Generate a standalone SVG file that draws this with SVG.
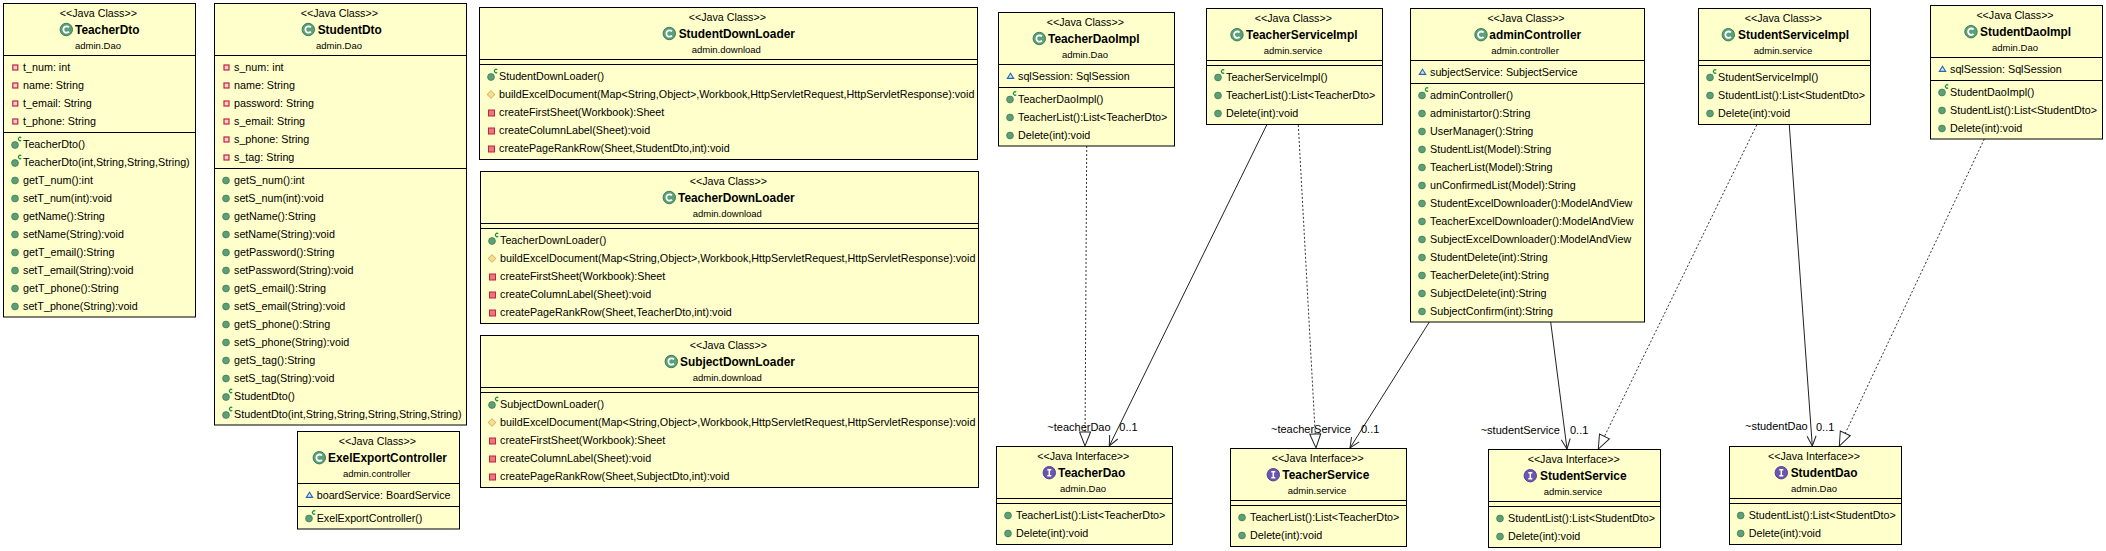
<svg xmlns="http://www.w3.org/2000/svg" width="2106" height="551" viewBox="0 0 2106 551">
<style>
text{font-family:"Liberation Sans",Arial,sans-serif;fill:#000}
.b{fill:#ffffcb;stroke:#000;stroke-width:1}
.d{stroke:#000;stroke-width:1;fill:none}
.s{font-size:10.7px;text-anchor:middle}
.n{font-size:11.9px;font-weight:bold}
.p{font-size:9.5px;text-anchor:middle}
.r{font-size:10.75px}
.l{font-size:11px}
.c{stroke:#222;stroke-width:1;fill:none}
.da{stroke-dasharray:2 2;stroke:#333}
</style>
<defs>
<marker id="open" markerUnits="userSpaceOnUse" markerWidth="14" markerHeight="14" refX="11" refY="6" orient="auto"><path d="M1,1.5L11,6L1,10.5" fill="none" stroke="#222" stroke-width="1"/></marker>
<marker id="tri" markerUnits="userSpaceOnUse" markerWidth="18" markerHeight="18" refX="15.5" refY="8" orient="auto"><path d="M1.5,2.5L15.5,8L1.5,13.5Z" fill="#fff" stroke="#222" stroke-width="1"/></marker>
<g id="m"><circle r="3.4" fill="#5f9f78" stroke="#3d7d58" stroke-width="0.8"/></g>
<g id="k"><circle cy="0.5" r="3.4" fill="#5f9f78" stroke="#3d7d58" stroke-width="0.8"/><path d="M6.2,-6.8A1.7,1.7 0 1 0 6.2,-4.2" fill="none" stroke="#0b8f3c" stroke-width="1.2"/></g>
<g id="f"><rect x="-2.5" y="-2.5" width="5" height="5" fill="#f4d0d0" stroke="#c8213c" stroke-width="1.2"/></g>
<g id="v"><rect x="-3" y="-2.5" width="6" height="6" fill="#e8787f" stroke="#c8213c" stroke-width="1"/></g>
<g id="t"><path d="M0,-3.8L3.9,0L0,3.8L-3.9,0Z" fill="#f8dc90" stroke="#c89c40" stroke-width="0.8"/></g>
<g id="a"><path d="M0,-2.8L3.2,2.4H-3.2Z" fill="#cfe4f7" stroke="#2a66ae" stroke-width="1.1"/></g>
<g id="C"><circle r="6.2" fill="#5c9f78" stroke="#3a7f58" stroke-width="1"/><path d="M2.6,-2.2A3.2,3.2 0 1 0 2.6,2.2" fill="none" stroke="#fff" stroke-width="1.8"/></g>
<g id="I"><circle r="6.2" fill="#6a55b0" stroke="#54428f" stroke-width="1"/><path d="M-2,-3H2M-2,3H2M0,-3V3" fill="none" stroke="#fff" stroke-width="1.5"/></g>
</defs>
<rect width="2106" height="551" fill="#fff"/>
<g id="connectors">
<path class="c da" d="M1086.7,146L1085,446" marker-end="url(#tri)"/>
<path class="c" d="M1266.7,125L1109.3,446" marker-end="url(#open)"/>
<path class="c da" d="M1298.3,125L1316,448" marker-end="url(#tri)"/>
<path class="c" d="M1429.3,322L1350,448" marker-end="url(#open)"/>
<path class="c" d="M1550.7,322L1567,449" marker-end="url(#open)"/>
<path class="c da" d="M1756.7,125L1598.3,449" marker-end="url(#tri)"/>
<path class="c" d="M1789.3,125L1812.3,446" marker-end="url(#open)"/>
<path class="c da" d="M1984.3,139L1839.3,446" marker-end="url(#tri)"/>
<text class="l" x="1047.3" y="430.5">~teacherDao</text><text class="l" x="1119.3" y="431">0..1</text>
<text class="l" x="1271" y="432.5">~teacherService</text><text class="l" x="1361" y="433">0..1</text>
<text class="l" x="1480.7" y="433.5">~studentService</text><text class="l" x="1570" y="434">0..1</text>
<text class="l" x="1745" y="430">~studentDao</text><text class="l" x="1816" y="431">0..1</text>
</g>

<g id="TeacherDto">
<rect class="b" x="3.5" y="3.5" width="192" height="313.5"/><path class="d" d="M3.5,55.5H195.5M3.5,132.5H195.5"/>
<text class="s" x="98.3" y="17">&lt;&lt;Java Class&gt;&gt;</text><use href="#C" x="66.3" y="29.5"/><text class="n" x="75" y="34">TeacherDto</text><text class="p" x="98" y="49">admin.Dao</text>
<use href="#f" x="15.3" y="67.5"/><text class="r" x="23" y="71">t_num: int</text>
<use href="#f" x="15.3" y="85.5"/><text class="r" x="23" y="89">name: String</text>
<use href="#f" x="15.3" y="103.5"/><text class="r" x="23" y="107">t_email: String</text>
<use href="#f" x="15.3" y="121.5"/><text class="r" x="23" y="125">t_phone: String</text>
<use href="#k" x="15" y="144.5"/><text class="r" x="23" y="148">TeacherDto()</text>
<use href="#k" x="15" y="162.5"/><text class="r" x="23" y="166">TeacherDto(int,String,String,String)</text>
<use href="#m" x="15" y="180.5"/><text class="r" x="23" y="184">getT_num():int</text>
<use href="#m" x="15" y="198.5"/><text class="r" x="23" y="202">setT_num(int):void</text>
<use href="#m" x="15" y="216.5"/><text class="r" x="23" y="220">getName():String</text>
<use href="#m" x="15" y="234.5"/><text class="r" x="23" y="238">setName(String):void</text>
<use href="#m" x="15" y="252.5"/><text class="r" x="23" y="256">getT_email():String</text>
<use href="#m" x="15" y="270.5"/><text class="r" x="23" y="274">setT_email(String):void</text>
<use href="#m" x="15" y="288.5"/><text class="r" x="23" y="292">getT_phone():String</text>
<use href="#m" x="15" y="306.5"/><text class="r" x="23" y="310">setT_phone(String):void</text>
</g>

<g id="StudentDto">
<rect class="b" x="214.5" y="3.5" width="252" height="421.5"/><path class="d" d="M214.5,55.5H466.5M214.5,168.5H466.5"/>
<text class="s" x="339.3" y="17">&lt;&lt;Java Class&gt;&gt;</text><use href="#C" x="308.3" y="29.5"/><text class="n" x="317.7" y="34">StudentDto</text><text class="p" x="339" y="49">admin.Dao</text>
<use href="#f" x="226.5" y="67.5"/><text class="r" x="234" y="71">s_num: int</text>
<use href="#f" x="226.5" y="85.5"/><text class="r" x="234" y="89">name: String</text>
<use href="#f" x="226.5" y="103.5"/><text class="r" x="234" y="107">password: String</text>
<use href="#f" x="226.5" y="121.5"/><text class="r" x="234" y="125">s_email: String</text>
<use href="#f" x="226.5" y="139.5"/><text class="r" x="234" y="143">s_phone: String</text>
<use href="#f" x="226.5" y="157.5"/><text class="r" x="234" y="161">s_tag: String</text>
<use href="#m" x="226" y="180.5"/><text class="r" x="234" y="184">getS_num():int</text>
<use href="#m" x="226" y="198.5"/><text class="r" x="234" y="202">setS_num(int):void</text>
<use href="#m" x="226" y="216.5"/><text class="r" x="234" y="220">getName():String</text>
<use href="#m" x="226" y="234.5"/><text class="r" x="234" y="238">setName(String):void</text>
<use href="#m" x="226" y="252.5"/><text class="r" x="234" y="256">getPassword():String</text>
<use href="#m" x="226" y="270.5"/><text class="r" x="234" y="274">setPassword(String):void</text>
<use href="#m" x="226" y="288.5"/><text class="r" x="234" y="292">getS_email():String</text>
<use href="#m" x="226" y="306.5"/><text class="r" x="234" y="310">setS_email(String):void</text>
<use href="#m" x="226" y="324.5"/><text class="r" x="234" y="328">getS_phone():String</text>
<use href="#m" x="226" y="342.5"/><text class="r" x="234" y="346">setS_phone(String):void</text>
<use href="#m" x="226" y="360.5"/><text class="r" x="234" y="364">getS_tag():String</text>
<use href="#m" x="226" y="378.5"/><text class="r" x="234" y="382">setS_tag(String):void</text>
<use href="#k" x="226" y="396.5"/><text class="r" x="234" y="400">StudentDto()</text>
<use href="#k" x="226" y="414.5"/><text class="r" x="234" y="418">StudentDto(int,String,String,String,String,String)</text>
</g>

<g id="ExelExportController">
<rect class="b" x="297.5" y="431.5" width="162" height="97.5"/><path class="d" d="M297.5,483.5H459.5M297.5,506.5H459.5"/>
<text class="s" x="377.3" y="445">&lt;&lt;Java Class&gt;&gt;</text><use href="#C" x="319.3" y="457.7"/><text class="n" x="328" y="462">ExelExportController</text><text class="p" x="376.7" y="477">admin.controller</text>
<use href="#a" x="309.5" y="495"/><text class="r" x="316.7" y="499">boardService: BoardService</text>
<use href="#k" x="309" y="518"/><text class="r" x="316.7" y="522">ExelExportController()</text>
</g>

<g id="StudentDownLoader">
<rect class="b" x="479.5" y="7.5" width="498" height="152"/><path class="d" d="M479.5,59.5H977.5M479.5,64.5H977.5"/>
<text class="s" x="727.3" y="21">&lt;&lt;Java Class&gt;&gt;</text><use href="#C" x="669.3" y="33.5"/><text class="n" x="678.7" y="38">StudentDownLoader</text><text class="p" x="726.3" y="53">admin.download</text>
<use href="#k" x="491" y="76.5"/><text class="r" x="499" y="80">StudentDownLoader()</text>
<use href="#t" x="491" y="94.5"/><text class="r" x="499" y="98">buildExcelDocument(Map&lt;String,Object&gt;,Workbook,HttpServletRequest,HttpServletResponse):void</text>
<use href="#v" x="491.5" y="112.5"/><text class="r" x="499" y="116">createFirstSheet(Workbook):Sheet</text>
<use href="#v" x="491.5" y="130.5"/><text class="r" x="499" y="134">createColumnLabel(Sheet):void</text>
<use href="#v" x="491.5" y="148.5"/><text class="r" x="499" y="152">createPageRankRow(Sheet,StudentDto,int):void</text>
</g>

<g id="TeacherDownLoader">
<rect class="b" x="480.5" y="171.5" width="498" height="152"/><path class="d" d="M480.5,223.5H978.5M480.5,228.5H978.5"/>
<text class="s" x="728.3" y="185">&lt;&lt;Java Class&gt;&gt;</text><use href="#C" x="669.3" y="197.5"/><text class="n" x="678" y="202">TeacherDownLoader</text><text class="p" x="727.3" y="217">admin.download</text>
<use href="#k" x="492" y="240.5"/><text class="r" x="500" y="244">TeacherDownLoader()</text>
<use href="#t" x="492" y="258.5"/><text class="r" x="500" y="262">buildExcelDocument(Map&lt;String,Object&gt;,Workbook,HttpServletRequest,HttpServletResponse):void</text>
<use href="#v" x="492.5" y="276.5"/><text class="r" x="500" y="280">createFirstSheet(Workbook):Sheet</text>
<use href="#v" x="492.5" y="294.5"/><text class="r" x="500" y="298">createColumnLabel(Sheet):void</text>
<use href="#v" x="492.5" y="312.5"/><text class="r" x="500" y="316">createPageRankRow(Sheet,TeacherDto,int):void</text>
</g>

<g id="SubjectDownLoader">
<rect class="b" x="480.5" y="335.5" width="498" height="152"/><path class="d" d="M480.5,387.5H978.5M480.5,392.5H978.5"/>
<text class="s" x="728.3" y="349">&lt;&lt;Java Class&gt;&gt;</text><use href="#C" x="671.3" y="361.5"/><text class="n" x="680" y="366">SubjectDownLoader</text><text class="p" x="727.3" y="381">admin.download</text>
<use href="#k" x="492" y="404.5"/><text class="r" x="500" y="408">SubjectDownLoader()</text>
<use href="#t" x="492" y="422.5"/><text class="r" x="500" y="426">buildExcelDocument(Map&lt;String,Object&gt;,Workbook,HttpServletRequest,HttpServletResponse):void</text>
<use href="#v" x="492.5" y="440.5"/><text class="r" x="500" y="444">createFirstSheet(Workbook):Sheet</text>
<use href="#v" x="492.5" y="458.5"/><text class="r" x="500" y="462">createColumnLabel(Sheet):void</text>
<use href="#v" x="492.5" y="476.5"/><text class="r" x="500" y="480">createPageRankRow(Sheet,SubjectDto,int):void</text>
</g>

<g id="TeacherDaoImpl">
<rect class="b" x="998.5" y="12.5" width="176" height="133.5"/><path class="d" d="M998.5,64.5H1174.5M998.5,87.5H1174.5"/>
<text class="s" x="1085.3" y="26">&lt;&lt;Java Class&gt;&gt;</text><use href="#C" x="1039.3" y="38.5"/><text class="n" x="1048" y="43">TeacherDaoImpl</text><text class="p" x="1085" y="58">admin.Dao</text>
<use href="#a" x="1010.5" y="76"/><text class="r" x="1018" y="80">sqlSession: SqlSession</text>
<use href="#k" x="1010" y="99"/><text class="r" x="1018" y="103">TeacherDaoImpl()</text>
<use href="#m" x="1010" y="117.5"/><text class="r" x="1018" y="121">TeacherList():List&lt;TeacherDto&gt;</text>
<use href="#m" x="1010" y="135.5"/><text class="r" x="1018" y="139">Delete(int):void</text>
</g>

<g id="TeacherServiceImpl">
<rect class="b" x="1206.5" y="8.5" width="176" height="116"/><path class="d" d="M1206.5,60.5H1382.5M1206.5,65.5H1382.5"/>
<text class="s" x="1293.3" y="22">&lt;&lt;Java Class&gt;&gt;</text><use href="#C" x="1237" y="34.7"/><text class="n" x="1246" y="39">TeacherServiceImpl</text><text class="p" x="1293" y="54">admin.service</text>
<use href="#k" x="1218" y="77"/><text class="r" x="1226" y="81">TeacherServiceImpl()</text>
<use href="#m" x="1218" y="95.5"/><text class="r" x="1226" y="99">TeacherList():List&lt;TeacherDto&gt;</text>
<use href="#m" x="1218" y="113.5"/><text class="r" x="1226" y="117">Delete(int):void</text>
</g>

<g id="adminController">
<rect class="b" x="1410.5" y="8.5" width="234" height="313.5"/><path class="d" d="M1410.5,60.5H1644.5M1410.5,83.5H1644.5"/>
<text class="s" x="1526" y="22">&lt;&lt;Java Class&gt;&gt;</text><use href="#C" x="1481" y="34.7"/><text class="n" x="1489.3" y="39">adminController</text><text class="p" x="1525" y="54">admin.controller</text>
<use href="#a" x="1422.5" y="72"/><text class="r" x="1430" y="76">subjectService: SubjectService</text>
<use href="#k" x="1422" y="95"/><text class="r" x="1430" y="99">adminController()</text>
<use href="#m" x="1422" y="113.5"/><text class="r" x="1430" y="117">administartor():String</text>
<use href="#m" x="1422" y="131.5"/><text class="r" x="1430" y="135">UserManager():String</text>
<use href="#m" x="1422" y="149.5"/><text class="r" x="1430" y="153">StudentList(Model):String</text>
<use href="#m" x="1422" y="167.5"/><text class="r" x="1430" y="171">TeacherList(Model):String</text>
<use href="#m" x="1422" y="185.5"/><text class="r" x="1430" y="189">unConfirmedList(Model):String</text>
<use href="#m" x="1422" y="203.5"/><text class="r" x="1430" y="207">StudentExcelDownloader():ModelAndView</text>
<use href="#m" x="1422" y="221.5"/><text class="r" x="1430" y="225">TeacherExcelDownloader():ModelAndView</text>
<use href="#m" x="1422" y="239.5"/><text class="r" x="1430" y="243">SubjectExcelDownloader():ModelAndView</text>
<use href="#m" x="1422" y="257.5"/><text class="r" x="1430" y="261">StudentDelete(int):String</text>
<use href="#m" x="1422" y="275.5"/><text class="r" x="1430" y="279">TeacherDelete(int):String</text>
<use href="#m" x="1422" y="293.5"/><text class="r" x="1430" y="297">SubjectDelete(int):String</text>
<use href="#m" x="1422" y="311.5"/><text class="r" x="1430" y="315">SubjectConfirm(int):String</text>
</g>

<g id="StudentServiceImpl">
<rect class="b" x="1698.5" y="8.5" width="172" height="116"/><path class="d" d="M1698.5,60.5H1870.5M1698.5,65.5H1870.5"/>
<text class="s" x="1783.3" y="22">&lt;&lt;Java Class&gt;&gt;</text><use href="#C" x="1728.3" y="34.7"/><text class="n" x="1738" y="39">StudentServiceImpl</text><text class="p" x="1783" y="54">admin.service</text>
<use href="#k" x="1710" y="77"/><text class="r" x="1718" y="81">StudentServiceImpl()</text>
<use href="#m" x="1710" y="95.5"/><text class="r" x="1718" y="99">StudentList():List&lt;StudentDto&gt;</text>
<use href="#m" x="1710" y="113.5"/><text class="r" x="1718" y="117">Delete(int):void</text>
</g>

<g id="StudentDaoImpl">
<rect class="b" x="1930.5" y="5.5" width="172" height="133.5"/><path class="d" d="M1930.5,57.5H2102.5M1930.5,80.5H2102.5"/>
<text class="s" x="2015" y="19">&lt;&lt;Java Class&gt;&gt;</text><use href="#C" x="1971" y="31.7"/><text class="n" x="1980" y="36">StudentDaoImpl</text><text class="p" x="2015" y="51">admin.Dao</text>
<use href="#a" x="1942.5" y="69"/><text class="r" x="1950" y="73">sqlSession: SqlSession</text>
<use href="#k" x="1942" y="92"/><text class="r" x="1950" y="96">StudentDaoImpl()</text>
<use href="#m" x="1942" y="110.5"/><text class="r" x="1950" y="114">StudentList():List&lt;StudentDto&gt;</text>
<use href="#m" x="1942" y="128.5"/><text class="r" x="1950" y="132">Delete(int):void</text>
</g>

<g id="TeacherDao">
<rect class="b" x="996.5" y="446.5" width="176" height="98"/><path class="d" d="M996.5,498.5H1172.5M996.5,503.5H1172.5"/>
<text class="s" x="1083.3" y="460">&lt;&lt;Java Interface&gt;&gt;</text><use href="#I" x="1049.3" y="472.7"/><text class="n" x="1058" y="477">TeacherDao</text><text class="p" x="1083" y="492">admin.Dao</text>
<use href="#m" x="1008" y="515.5"/><text class="r" x="1016" y="519">TeacherList():List&lt;TeacherDto&gt;</text>
<use href="#m" x="1008" y="533.5"/><text class="r" x="1016" y="537">Delete(int):void</text>
</g>

<g id="TeacherService">
<rect class="b" x="1230.5" y="448.5" width="176" height="98"/><path class="d" d="M1230.5,500.5H1406.5M1230.5,505.5H1406.5"/>
<text class="s" x="1317.7" y="462">&lt;&lt;Java Interface&gt;&gt;</text><use href="#I" x="1273.3" y="474.7"/><text class="n" x="1282.3" y="479">TeacherService</text><text class="p" x="1317" y="494">admin.service</text>
<use href="#m" x="1242" y="517.5"/><text class="r" x="1250" y="521">TeacherList():List&lt;TeacherDto&gt;</text>
<use href="#m" x="1242" y="535.5"/><text class="r" x="1250" y="539">Delete(int):void</text>
</g>

<g id="StudentService">
<rect class="b" x="1488.5" y="449.5" width="172" height="98"/><path class="d" d="M1488.5,501.5H1660.5M1488.5,506.5H1660.5"/>
<text class="s" x="1573.7" y="463">&lt;&lt;Java Interface&gt;&gt;</text><use href="#I" x="1530.3" y="475.7"/><text class="n" x="1540" y="480">StudentService</text><text class="p" x="1573" y="495">admin.service</text>
<use href="#m" x="1500" y="518.5"/><text class="r" x="1508" y="522">StudentList():List&lt;StudentDto&gt;</text>
<use href="#m" x="1500" y="536.5"/><text class="r" x="1508" y="540">Delete(int):void</text>
</g>

<g id="StudentDao">
<rect class="b" x="1729.5" y="446.5" width="172" height="98"/><path class="d" d="M1729.5,498.5H1901.5M1729.5,503.5H1901.5"/>
<text class="s" x="1814" y="460">&lt;&lt;Java Interface&gt;&gt;</text><use href="#I" x="1781.3" y="472.7"/><text class="n" x="1790.7" y="477">StudentDao</text><text class="p" x="1814" y="492">admin.Dao</text>
<use href="#m" x="1740.7" y="515.5"/><text class="r" x="1748.7" y="519">StudentList():List&lt;StudentDto&gt;</text>
<use href="#m" x="1740.7" y="533.5"/><text class="r" x="1748.7" y="537">Delete(int):void</text>
</g>
</svg>
